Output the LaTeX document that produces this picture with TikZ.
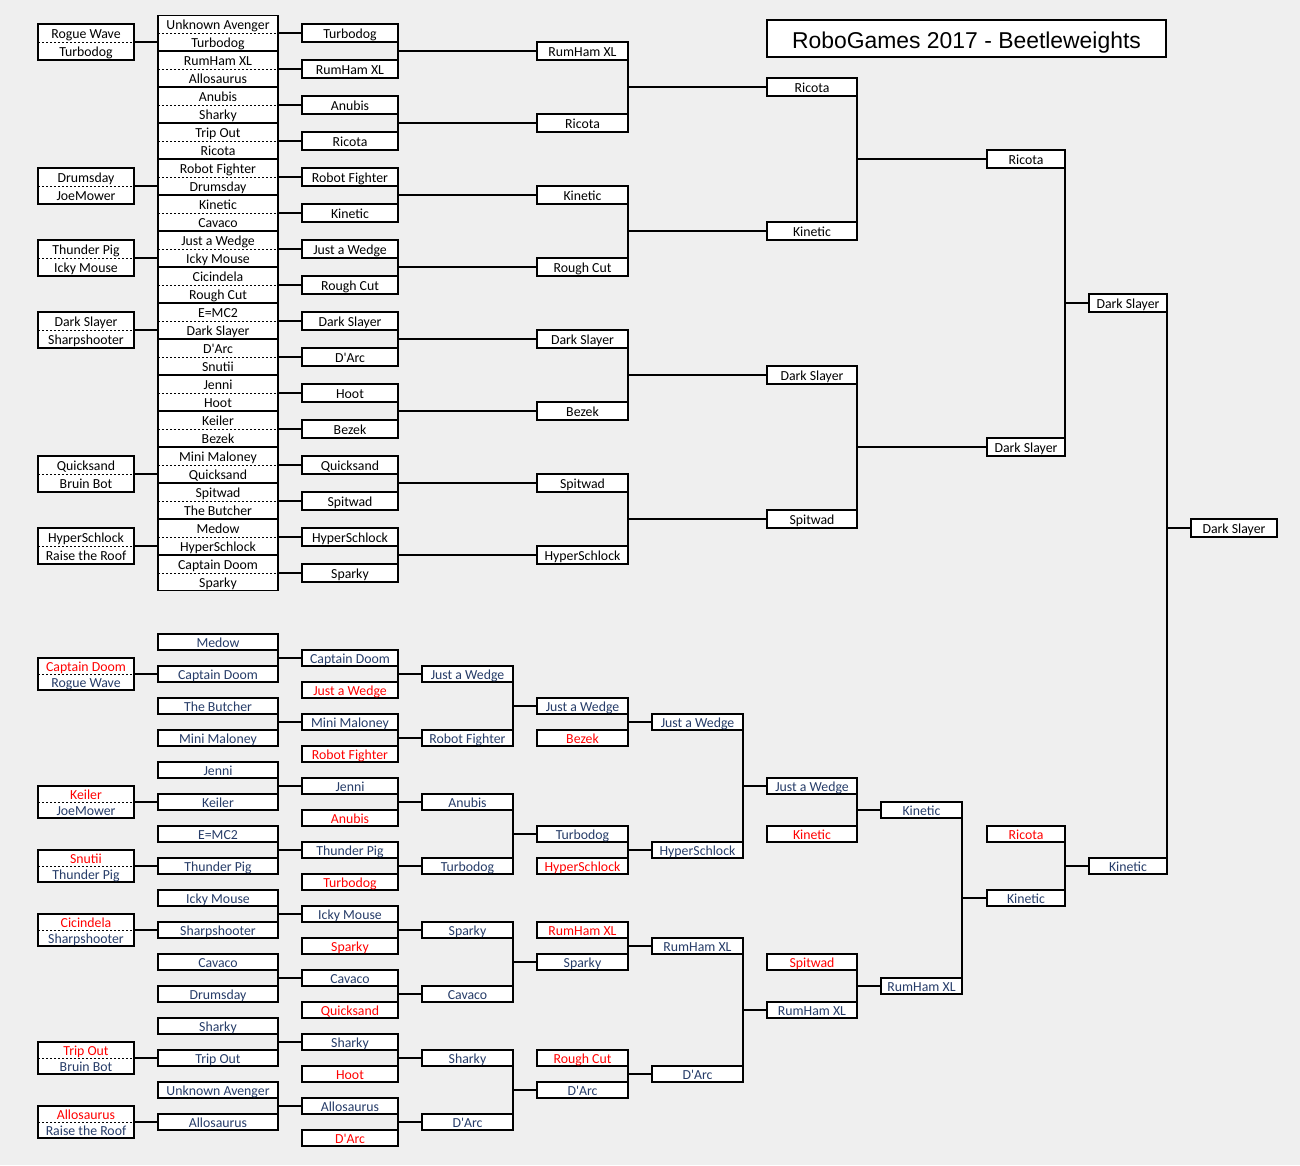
\documentclass[tikz,border=0pt]{standalone}
\usepackage{fontspec}
\setmainfont{Carlito}
\newfontfamily\titlefont{Liberation Sans}
\definecolor{paper}{RGB}{239,239,239}
\definecolor{lowblue}{RGB}{38,60,104}
\definecolor{hotred}{RGB}{255,0,0}

% two-name box: [options]{name}{x}{y}{offset}{upper}{lower}
\newcommand{\duo}[7][]{%
  \node[cell, #1] (#2) at (#3,#4) {};
  \draw[split] (#2.west) -- (#2.east);
  \node[tag] (#2u) at (#3,#4-#5) {#6};
  \node[tag] (#2l) at (#3,#4+#5) {#7};
}

\begin{document}
\begin{tikzpicture}[
    x=1pt, y=-1pt,
    cell/.style={draw, fill=white, line width=1.1pt, inner sep=0pt, outer sep=0pt, minimum height=18pt,
                 font=\fontsize{13.8}{16}\selectfont, text height=12.6pt, text depth=1.6pt},
    low/.style={cell, minimum height=16pt, text=lowblue},
    hot/.style={low, line width=2.6pt, text=hotred},
    tag/.style={inner sep=0pt, font=\fontsize{13.8}{16}\selectfont, text height=12.6pt, text depth=1.6pt},
    split/.style={line width=0.9pt, dash pattern=on 2pt off 2pt},
    link/.style={line width=1.1pt},
    title/.style={draw, fill=white, line width=2.6pt, minimum width=399pt, minimum height=37pt,
                  text height=23pt, text depth=4pt, font=\titlefont\fontsize{22.9}{27}\selectfont}
]
    % Sheet
    \fill[paper] (0,0) rectangle (1300,1165);
    \node[title] (head) at (966.5,38.5) {RoboGames 2017 - Beetleweights};

    % Winners bracket: play-ins
    \duo[minimum width=96pt, minimum height=36pt]{a1}{86}{42}{9}{Rogue Wave}{Turbodog}
    \duo[minimum width=96pt, minimum height=36pt]{a2}{86}{186}{9}{Drumsday}{JoeMower}
    \duo[minimum width=96pt, minimum height=36pt]{a3}{86}{258}{9}{Thunder Pig}{Icky Mouse}
    \duo[minimum width=96pt, minimum height=36pt]{a4}{86}{330}{9}{Dark Slayer}{Sharpshooter}
    \duo[minimum width=96pt, minimum height=36pt]{a5}{86}{474}{9}{Quicksand}{Bruin Bot}
    \duo[minimum width=96pt, minimum height=36pt]{a6}{86}{546}{9}{HyperSchlock}{Raise the Roof}

    % Winners bracket: first round
    \foreach \u/\l [count=\k, evaluate=\k as \y using 36*\k-3] in {Unknown Avenger/Turbodog,
        RumHam XL/Allosaurus, Anubis/Sharky, Trip Out/Ricota, Robot Fighter/Drumsday,
        Kinetic/Cavaco, Just a Wedge/Icky Mouse, Cicindela/Rough Cut, E=MC2/Dark Slayer,
        D\textquotesingle Arc/Snutii, Jenni/Hoot, Keiler/Bezek, Mini Maloney/Quicksand,
        Spitwad/The Butcher, Medow/HyperSchlock, Captain Doom/Sparky}
        \duo[minimum width=120pt, minimum height=34.5pt]{b\k}{218}{\y}{9}{\u}{\l};

    % Winners bracket: later rounds
    \foreach \n [count=\k, evaluate=\k as \y using 36*\k-3] in {Turbodog, RumHam XL, Anubis,
        Ricota, Robot Fighter, Kinetic, Just a Wedge, Rough Cut, Dark Slayer,
        D\textquotesingle Arc, Hoot, Bezek, Quicksand, Spitwad, HyperSchlock, Sparky}
        \node[cell, minimum width=96pt] (c\k) at (350,\y) {\n};
    \foreach \n [count=\k, evaluate=\k as \y using 72*\k-21] in {RumHam XL, Ricota, Kinetic,
        Rough Cut, Dark Slayer, Bezek, Spitwad, HyperSchlock}
        \node[cell, minimum width=91pt] (d\k) at (582.5,\y) {\n};
    \foreach \n [count=\k, evaluate=\k as \y using 144*\k-57] in {Ricota, Kinetic, Dark Slayer, Spitwad}
        \node[cell, minimum width=90pt] (e\k) at (812,\y) {\n};
    \node[cell, minimum width=78pt] (f1) at (1026,159) {Ricota};
    \node[cell, minimum width=78pt] (f2) at (1026,447) {Dark Slayer};
    \node[cell, minimum width=78pt] (g1) at (1128,303) {Dark Slayer};
    \node[cell, minimum width=86pt] (h) at (1234,528) {Dark Slayer};

    % Losers bracket: play-ins
    \duo[minimum width=96pt, minimum height=32pt]{la1}{86}{674}{8}{\textcolor{hotred}{Captain Doom}}{\textcolor{lowblue}{Rogue Wave}}
    \duo[minimum width=96pt, minimum height=32pt]{la2}{86}{802}{8}{\textcolor{hotred}{Keiler}}{\textcolor{lowblue}{JoeMower}}
    \duo[minimum width=96pt, minimum height=32pt]{la3}{86}{866}{8}{\textcolor{hotred}{Snutii}}{\textcolor{lowblue}{Thunder Pig}}
    \duo[minimum width=96pt, minimum height=32pt]{la4}{86}{930}{8}{\textcolor{hotred}{Cicindela}}{\textcolor{lowblue}{Sharpshooter}}
    \duo[minimum width=96pt, minimum height=32pt]{la5}{86}{1058}{8}{\textcolor{hotred}{Trip Out}}{\textcolor{lowblue}{Bruin Bot}}
    \duo[minimum width=96pt, minimum height=32pt]{la6}{86}{1122}{8}{\textcolor{hotred}{Allosaurus}}{\textcolor{lowblue}{Raise the Roof}}

    % Losers bracket: rounds
    \foreach \n [count=\k, evaluate=\k as \y using 32*\k+610] in {Medow, Captain Doom,
        The Butcher, Mini Maloney, Jenni, Keiler, E=MC2, Thunder Pig, Icky Mouse, Sharpshooter,
        Cavaco, Drumsday, Sharky, Trip Out, Unknown Avenger, Allosaurus}
        \node[low, minimum width=120pt] (lb\k) at (218,\y) {\n};
    \foreach \n/\s [count=\k, evaluate=\k as \y using 32*\k+626] in {Captain Doom/low,
        Just a Wedge/hot, Mini Maloney/low, Robot Fighter/hot, Jenni/low, Anubis/hot,
        Thunder Pig/low, Turbodog/hot, Icky Mouse/low, Sparky/hot, Cavaco/low, Quicksand/hot,
        Sharky/low, Hoot/hot, Allosaurus/low, D\textquotesingle Arc/hot}
        \node[\s, minimum width=96pt] (lc\k) at (350,\y) {\n};
    \foreach \n [count=\k, evaluate=\k as \y using 64*\k+610] in {Just a Wedge, Robot Fighter,
        Anubis, Turbodog, Sparky, Cavaco, Sharky, D\textquotesingle Arc}
        \node[low, minimum width=91pt] (ld\k) at (467.5,\y) {\n};
    \foreach \n/\s/\y [count=\k] in {Just a Wedge/low/706, Bezek/hot/738, Turbodog/low/834,
        HyperSchlock/hot/866, RumHam XL/hot/930, Sparky/low/962, Rough Cut/hot/1058,
        D\textquotesingle Arc/low/1090}
        \node[\s, minimum width=91pt] (le\k) at (582.5,\y) {\n};
    \foreach \n/\y [count=\k] in {Just a Wedge/722, HyperSchlock/850, RumHam XL/946,
        D\textquotesingle Arc/1074}
        \node[low, minimum width=91pt] (lf\k) at (697.5,\y) {\n};
    \foreach \n/\s/\y [count=\k] in {Just a Wedge/low/786, Kinetic/hot/834, Spitwad/hot/962,
        RumHam XL/low/1010}
        \node[\s, minimum width=90pt] (lg\k) at (812,\y) {\n};
    \node[low, minimum width=81pt] (lh1) at (921.5,810) {Kinetic};
    \node[low, minimum width=81pt] (lh2) at (921.5,986) {RumHam XL};
    \node[hot, minimum width=78pt] (li1) at (1026,834) {Ricota};
    \node[low, minimum width=78pt] (li2) at (1026,898) {Kinetic};
    \node[low, minimum width=78pt] (lj1) at (1128,866) {Kinetic};

    % Feeds into first rounds
    \foreach \a/\b in {a1/b1, a2/b5, a3/b7, a4/b9, a5/b13, a6/b15,
                       la1/lb2, la2/lb6, la3/lb8, la4/lb10, la5/lb14, la6/lb16}
        \draw[link] (\a.east) -- (\a.east -| \b.west);
    \foreach \k in {1,...,16}
        \draw[link] (b\k.east) -- (c\k.west);

    % Bracket joins
    \foreach \u/\l/\w in {c1/c2/d1, c3/c4/d2, c5/c6/d3, c7/c8/d4, c9/c10/d5, c11/c12/d6,
        c13/c14/d7, c15/c16/d8, d1/d2/e1, d3/d4/e2, d5/d6/e3, d7/d8/e4, e1/e2/f1, e3/e4/f2,
        f1/f2/g1, g1/lj1/h,
        lb1/lb2/lc1, lb3/lb4/lc3, lb5/lb6/lc5, lb7/lb8/lc7, lb9/lb10/lc9, lb11/lb12/lc11,
        lb13/lb14/lc13, lb15/lb16/lc15, lc1/lc2/ld1, lc3/lc4/ld2, lc5/lc6/ld3, lc7/lc8/ld4,
        lc9/lc10/ld5, lc11/lc12/ld6, lc13/lc14/ld7, lc15/lc16/ld8, ld1/ld2/le1, ld3/ld4/le3,
        ld5/ld6/le6, ld7/ld8/le8, le1/le2/lf1, le3/le4/lf2, le5/le6/lf3, le7/le8/lf4,
        lf1/lf2/lg1, lf3/lf4/lg4, lg1/lg2/lh1, lg3/lg4/lh2, lh1/lh2/li2, li1/li2/lj1} {
        \draw[link] (\u.south east) -- (\l.north east);
        \draw[link] (\w.west) -- (\w.west -| \u.east);
    }
\end{tikzpicture}
\end{document}
